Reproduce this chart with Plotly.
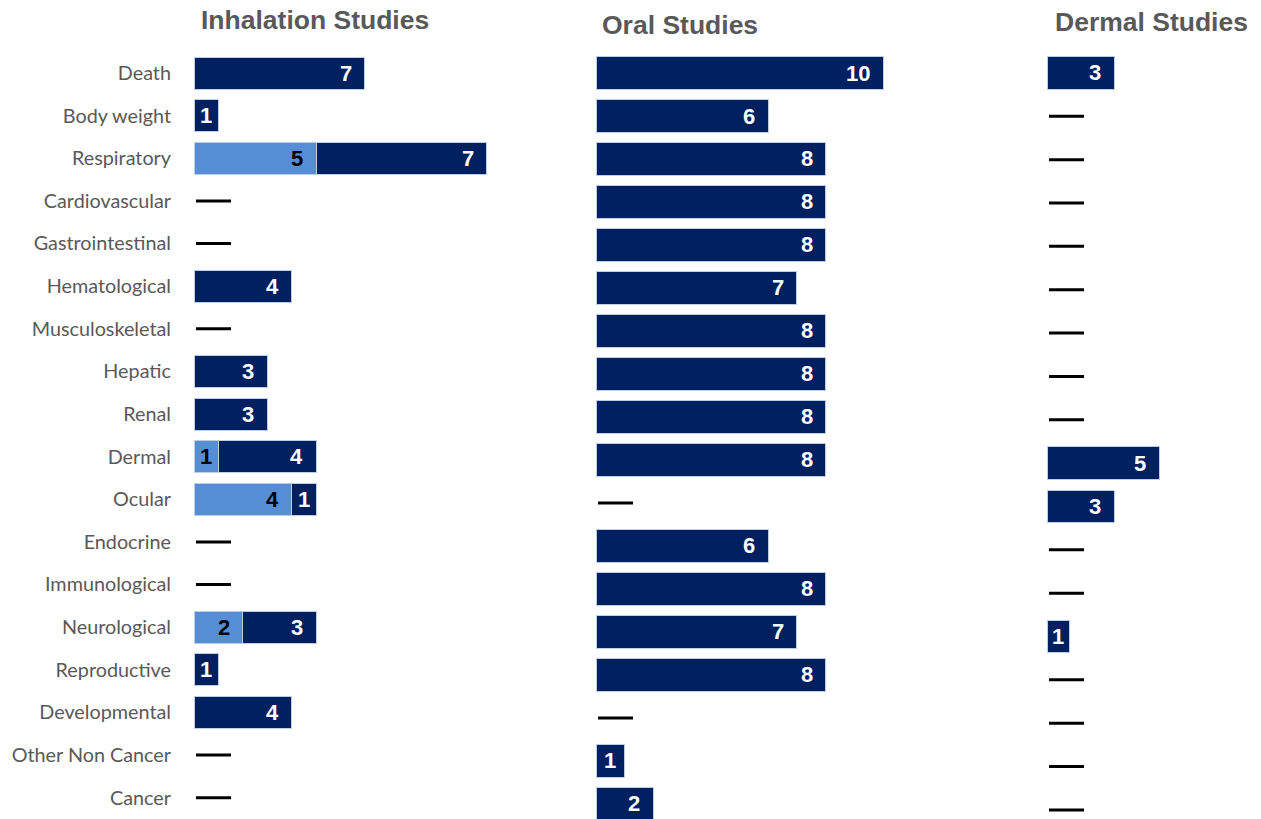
import plotly.graph_objects as go

categories = ["Death", "Body weight", "Respiratory", "Cardiovascular", "Gastrointestinal",
              "Hematological", "Musculoskeletal", "Hepatic", "Renal", "Dermal", "Ocular",
              "Endocrine", "Immunological", "Neurological", "Reproductive", "Developmental",
              "Other Non Cancer", "Cancer"]
inhalation_light = [0, 0, 5, 0, 0, 0, 0, 0, 0, 1, 4, 0, 0, 2, 0, 0, 0, 0]
inhalation_dark = [7, 1, 7, 0, 0, 4, 0, 3, 3, 4, 1, 0, 0, 3, 1, 4, 0, 0]
oral_dark = [10, 6, 8, 8, 8, 7, 8, 8, 8, 8, 0, 6, 8, 7, 8, 0, 1, 2]
dermal_dark = [3, 0, 0, 0, 0, 0, 0, 0, 0, 5, 3, 0, 0, 1, 0, 0, 0, 0]
panel_titles = ["Inhalation Studies", "Oral Studies", "Dermal Studies"]

NAVY = "#002060"
LIGHT = "#558ED5"
W, H = 1261, 819

# panel geometry (pixels)
panels = [
    dict(x0=194, x1=560, xmax=15.0, top=51.7, ybottom=17.5, title_x=315, title_y=20),
    dict(x0=596, x1=1010, xmax=414 / 28.7, top=51.5, ybottom=17.35, title_x=680, title_y=25),
    dict(x0=1047, x1=1261, xmax=214 / 22.4, top=51.3, ybottom=17.21, title_x=1151, title_y=22),
]

fig = go.Figure()
line_style = dict(color="rgba(190,205,230,1)", width=1)

def add_bar(vals, color, idx, name):
    xa = "x" if idx == 0 else f"x{idx+1}"
    ya = "y" if idx == 0 else f"y{idx+1}"
    fig.add_trace(go.Bar(y=categories, x=[v if v > 0 else None for v in vals], orientation="h",
                         marker=dict(color=color, line=line_style),
                         xaxis=xa, yaxis=ya, name=name, showlegend=False, hoverinfo="x+y"))

add_bar(inhalation_light, LIGHT, 0, "Inhalation (light)")
add_bar(inhalation_dark, NAVY, 0, "Inhalation")
add_bar(oral_dark, NAVY, 1, "Oral")
add_bar(dermal_dark, NAVY, 2, "Dermal")

annotations = []
shapes = []

def px_per_unit(p):
    return (p["x1"] - p["x0"]) / p["xmax"]

LABEL_FONT = "Liberation Sans"

def label_segments(idx, stacks):
    p = panels[idx]
    xa = "x" if idx == 0 else f"x{idx+1}"
    ya = "y" if idx == 0 else f"y{idx+1}"
    ppu = px_per_unit(p)
    for i, cat in enumerate(categories):
        base = 0
        total = sum(s[0][i] for s in stacks)
        for vals, txtcolor in stacks:
            v = vals[i]
            if v > 0:
                end = base + v
                font = dict(family=LABEL_FONT, size=22, color=txtcolor)
                if v * ppu < 40:
                    annotations.append(dict(x=base + v / 2, y=cat, xref=xa, yref=ya, text=f"<b>{v}</b>",
                                            showarrow=False, xanchor="center", font=font))
                else:
                    annotations.append(dict(x=end, y=cat, xref=xa, yref=ya, text=f"<b>{v}</b>",
                                            showarrow=False, xanchor="right", xshift=-11, font=font))
                base = end
        if total == 0:
            shapes.append(dict(type="line", xref=xa, yref=ya, xsizemode="pixel", xanchor=0,
                               x0=2, x1=37, y0=cat, y1=cat, line=dict(color="black", width=3)))

label_segments(0, [(inhalation_light, "black"), (inhalation_dark, "white")])
label_segments(1, [(oral_dark, "white")])
label_segments(2, [(dermal_dark, "white")])

for k, p in enumerate(panels):
    annotations.append(dict(x=p["title_x"] / W, y=1 - p["title_y"] / H, xref="paper", yref="paper",
                            text=f"<b>{panel_titles[k]}</b>", showarrow=False, xanchor="center",
                            yanchor="middle", font=dict(family="Liberation Sans", size=26.5, color="#595959")))

layout = dict(
    width=W, height=H, margin=dict(l=0, r=0, t=0, b=0),
    paper_bgcolor="white", plot_bgcolor="white",
    barmode="stack", bargap=0.25,
    annotations=annotations, shapes=shapes,
    font=dict(family="Lato", color="#595959"),
)
for k, p in enumerate(panels):
    sx = "" if k == 0 else str(k + 1)
    layout[f"xaxis{sx}"] = dict(domain=[p["x0"] / W, p["x1"] / W], range=[0, p["xmax"]],
                                showgrid=False, zeroline=False, showticklabels=False, showline=False,
                                anchor=f"y{sx}", fixedrange=True)
    layout[f"yaxis{sx}"] = dict(domain=[0, 1 - p["top"] / H], range=[p["ybottom"], -0.5],
                                type="category", categoryorder="array", categoryarray=categories,
                                showgrid=False, zeroline=False, showline=False,
                                showticklabels=(k == 0), ticks="", ticklabelstandoff=22,
                                tickfont=dict(family="Lato", size=19.8, color="#595959"),
                                anchor=f"x{sx}", automargin=False, fixedrange=True)
fig.update_layout(**layout)
fig.write_html("out.html", config={"displayModeBar": False},
               post_script="document.body.style.margin='0';document.body.style.overflow='hidden';")
